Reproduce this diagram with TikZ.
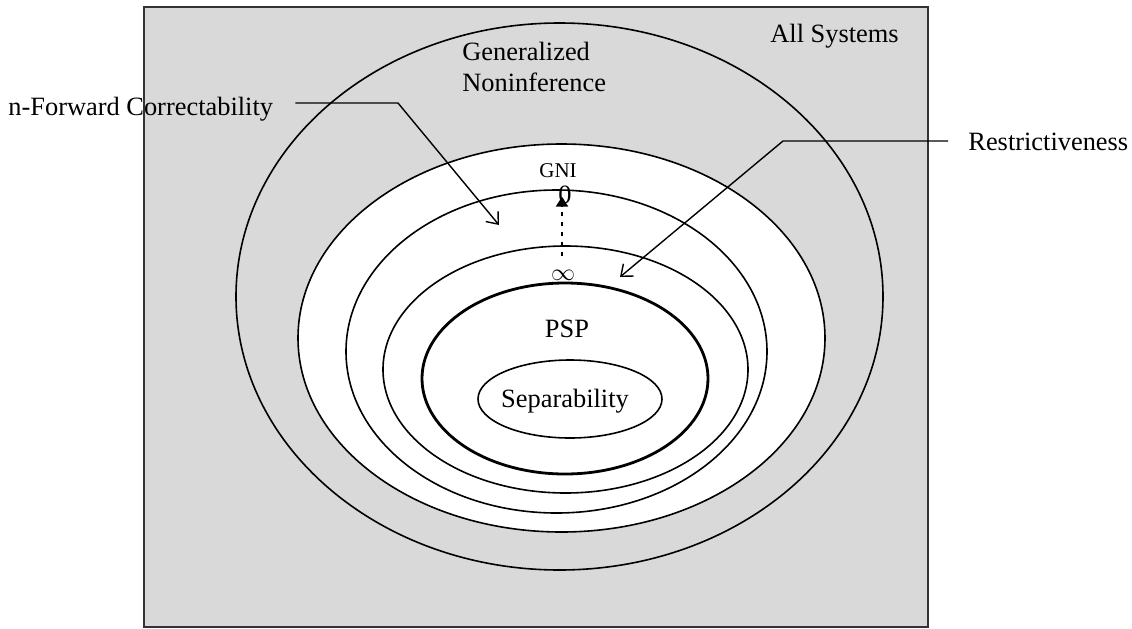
\documentclass[tikz,border=0pt]{standalone}
\usepackage{fontspec}
\setmainfont{Liberation Serif}
\usetikzlibrary{arrows.meta}

\tikzset{
  ring/.style={line width=0.8pt},
  pointer/.style={line width=0.7pt, -{Straight Barb[length=5pt,width=8pt]}},
  dotarrow/.style={line width=1.15pt, dash pattern=on 2.2pt off 2.8pt,
    -{Triangle[length=5pt,width=6pt]}},
  lbl/.style={font=\fontsize{13.2}{15.5}\selectfont, inner sep=0pt},
  small/.style={font=\fontsize{10.5}{12}\selectfont, inner sep=0pt},
}

\begin{document}
\begin{tikzpicture}[x=0.5pt, y=-0.5pt]
    % 1. Canvas and the box of all systems
    \useasboundingbox (0,0) rectangle (1132,628);
    \draw[fill=gray!30, draw=black!80, line width=0.8pt] (144,7) rectangle (928,627);

    % 2. Nested classes
    \draw[ring] (559.5,296.5) ellipse [x radius=323.5, y radius=273.5];
    \draw[ring, fill=white] (561.5,338) ellipse [x radius=263.5, y radius=194];
    \draw[ring] (556.5,351.5) ellipse [x radius=210.5, y radius=161.5];
    \draw[ring] (565.5,369.5) ellipse [x radius=182.5, y radius=123.5];
    \draw[ring, line width=1.4pt] (565,378.5) ellipse [x radius=143, y radius=95.5];
    \draw[ring] (570,399) ellipse [x radius=92, y radius=39];

    % 3. Labels
    \node[lbl, anchor=base west] (allsys) at (770,42) {All Systems};
    \node[lbl, anchor=north west, align=left] (gennoninf) at (462,42) {Generalized\\Noninference};
    \node[small, anchor=base] (gnilbl) at (558,177) {GNI};
    \node[lbl, anchor=base] (zero) at (565,203) {0};
    \node[lbl] (inf) at (563,275) {$\infty$};
    \node[lbl, anchor=base] (psp) at (567,337) {PSP};
    \node[lbl, anchor=base] (sep) at (565,407) {Separability};
    \node[lbl, anchor=base west] (nfc) at (8,115) {n-Forward Correctability};
    \node[lbl, anchor=base west] (rst) at (968,150) {Restrictiveness};

    % 4. Pointers
    \coordinate (nfcbend) at (398,103);
    \coordinate (nfctip) at (499,225);
    \draw[pointer] ([xshift=11pt]nfc.east |- nfcbend) -- (nfcbend) -- (nfctip);

    \coordinate (rstbend) at (783,141);
    \coordinate (rsttip) at (620,277);
    \draw[pointer] ([xshift=-10pt]rst.west |- rstbend) -- (rstbend) -- (rsttip);

    % 5. From infinity up to 0
    \draw[dotarrow] ([xshift=-0.5pt,yshift=6.5pt]inf.north) -- ([xshift=-0.5pt,yshift=3.5pt]inf.north |- zero.south);
\end{tikzpicture}
\end{document}
